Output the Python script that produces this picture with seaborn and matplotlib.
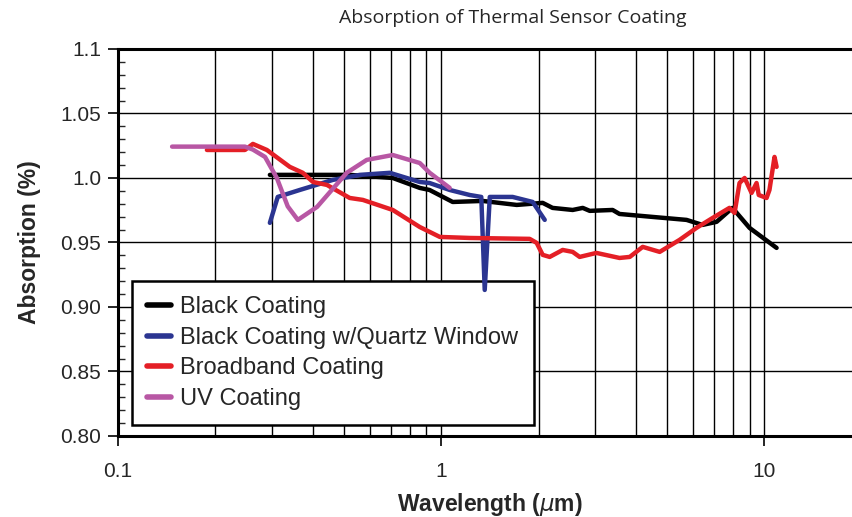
import numpy as np
import pandas as pd
import seaborn as sns
import matplotlib.pyplot as plt
from matplotlib.ticker import FixedLocator, FixedFormatter, MultipleLocator

# ==========================================
# DATA
# ==========================================
black_wl = [0.295, 0.365, 0.521, 0.708, 0.858, 0.92, 1.085, 1.343, 1.712, 2.06, 2.21, 2.55,
            2.74, 2.88, 3.39, 3.56, 4.51, 5.74, 6.43, 7.11, 7.96, 8.99, 10.9]
black_abs = [1.0024, 1.0024, 1.0024, 1.0, 0.9923, 0.9907, 0.9814, 0.9822, 0.9791, 0.9807, 0.9768, 0.9752,
             0.9768, 0.9745, 0.9752, 0.9721, 0.9698, 0.9675, 0.9636, 0.966, 0.9768, 0.9613, 0.9458]

quartz_wl = [0.295, 0.312, 0.365, 0.462, 0.560, 0.693, 0.858, 0.92, 1.062, 1.225, 1.33, 1.363,
             1.413, 1.663, 1.918, 2.09]
quartz_abs = [0.9652, 0.9853, 0.9907, 0.9985, 1.0024, 1.004, 0.9969, 0.9961, 0.9907, 0.9868, 0.9853, 0.9132,
              0.9853, 0.9853, 0.9814, 0.9675]

broad_wl = [0.1884, 0.247, 0.2614, 0.2888, 0.340, 0.373, 0.401, 0.443, 0.521, 0.572, 0.708, 0.858,
            0.99, 1.225, 1.877, 1.973, 2.06, 2.165, 2.375, 2.55, 2.68, 3.02, 3.56, 3.83, 4.20, 4.74,
            5.46, 6.16, 6.91, 7.79, 8.08, 8.37, 8.68, 9.12, 9.45, 9.6, 10.15, 10.36, 10.74, 10.9]
broad_abs = [1.0217, 1.0217, 1.0264, 1.0217, 1.0086, 1.004, 0.9969, 0.9946, 0.9845, 0.983, 0.9752, 0.962,
             0.9543, 0.9535, 0.9528, 0.9497, 0.9404, 0.9388, 0.9442, 0.9427, 0.9388, 0.9419, 0.938, 0.9388, 0.9466, 0.9427,
             0.952, 0.9613, 0.969, 0.9768, 0.9729, 0.9961, 1.0, 0.9884, 0.9961, 0.9868, 0.9845, 0.9907, 1.0163, 1.0086]

uv_wl = [0.147, 0.247, 0.2614, 0.285, 0.31, 0.335, 0.360, 0.413, 0.51, 0.588, 0.708, 0.858, 0.921, 1.062]
uv_abs = [1.0243, 1.0243, 1.022, 1.0163, 1.0, 0.978, 0.9675, 0.9776, 1.004, 1.014, 1.0178, 1.0116, 1.004, 0.9923]

series_names = ["Black Coating", "Black Coating w/Quartz Window", "Broadband Coating", "UV Coating"]
series_colors = ["#000000", "#2b3591", "#e41f26", "#b857a4"]

x_major = [0.1, 1, 10]
x_major_labels = ["0.1", "1", "10"]
y_major = [0.80, 0.85, 0.90, 0.95, 1.0, 1.05, 1.1]
y_major_labels = ["0.80", "0.85", "0.90", "0.95", "1.0", "1.05", "1.1"]

# build one long table for seaborn
frames = []
for name, wl, ab in zip(series_names,
                        [black_wl, quartz_wl, broad_wl, uv_wl],
                        [black_abs, quartz_abs, broad_abs, uv_abs]):
    frames.append(pd.DataFrame({"Wavelength": wl, "Absorption": ab, "Coating": name}))
df = pd.concat(frames, ignore_index=True)

# ==========================================
# PLOT
# ==========================================
sns.set_style("white")
plt.rcParams['font.family'] = ['Liberation Sans', 'DejaVu Sans']

fig = plt.figure(figsize=(8.52, 5.17), dpi=100)
# right edge runs past the figure, like the cropped reference
ax = fig.add_axes([0.1385, 0.1567, 0.873, 0.7486])

sns.lineplot(data=df, x="Wavelength", y="Absorption", hue="Coating",
             hue_order=series_names, palette=series_colors,
             sort=False, estimator=None, linewidth=3.2, ax=ax)

ax.set_xscale("log")
ax.set_xlim(0.1, 20)
ax.set_ylim(0.80, 1.1)

# grid: every decade sub-division vertically, every 0.05 horizontally
minor_x = [m * d for d in [0.1, 1, 10] for m in range(2, 10)]
ax.xaxis.set_major_locator(FixedLocator(x_major))
ax.xaxis.set_major_formatter(FixedFormatter(x_major_labels))
ax.xaxis.set_minor_locator(FixedLocator(minor_x))
ax.yaxis.set_major_locator(FixedLocator(y_major))
ax.yaxis.set_major_formatter(FixedFormatter(y_major_labels))
ax.yaxis.set_minor_locator(MultipleLocator(0.01))

ax.grid(True, which="major", color="black", linewidth=1.0)
ax.grid(True, which="minor", axis="x", color="black", linewidth=1.0)
ax.set_axisbelow(True)

ax.tick_params(axis="both", which="major", direction="out", length=7, width=1.2,
               labelsize=15, color="black", left=True, bottom=True)
ax.tick_params(axis="y", which="major", pad=5)
ax.tick_params(axis="x", which="major", pad=12)
ax.tick_params(axis="x", which="minor", length=0)
ax.tick_params(axis="y", which="minor", direction="in", length=5, width=1.0, left=True)

for side in ["left", "bottom", "top"]:
    ax.spines[side].set_color("black")
    ax.spines[side].set_linewidth(2.2)
ax.spines["right"].set_visible(False)

ax.set_xlabel("Wavelength ($\\mu$m)", fontsize=16.5, fontweight="bold", labelpad=7)
ax.set_ylabel("Absorption (%)", fontsize=16.5, fontweight="bold", labelpad=14)
fig.text(0.602, 0.965, "Absorption of Thermal Sensor Coating", fontsize=14,
         family=["Open Sans", "DejaVu Sans"], ha="center", va="center")

leg = ax.legend(loc="upper left", bbox_to_anchor=(0.0188, 0.4005), fontsize=17,
                frameon=True, fancybox=False, handlelength=1.0, handletextpad=0.4,
                labelspacing=0.36, borderpad=0.65, borderaxespad=0)
leg.get_frame().set_edgecolor("black")
leg.get_frame().set_linewidth(1.8)
leg.get_frame().set_alpha(1)
leg.set_zorder(1.5)  # the quartz dip is drawn over the legend box in the reference
for line in leg.get_lines():
    line.set_linewidth(4)

fig.savefig("out.png", dpi=100)
